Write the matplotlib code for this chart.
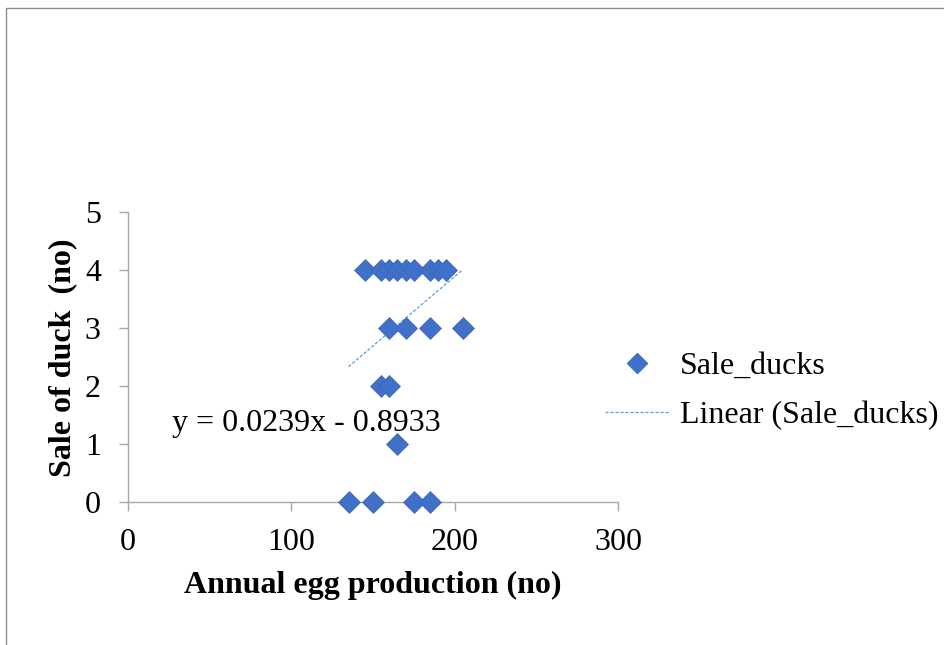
import numpy as np
import matplotlib.pyplot as plt
from matplotlib.lines import Line2D
from matplotlib.patches import Rectangle

# Data
egg_production = [145, 155, 160, 165, 170, 175, 185, 190, 195,
                  160, 170, 185, 205,
                  155, 160,
                  165,
                  135, 150, 175, 185]
sale_ducks = [4, 4, 4, 4, 4, 4, 4, 4, 4,
              3, 3, 3, 3,
              2, 2,
              1,
              0, 0, 0, 0]

# trendline coefficients as printed on the chart
slope = 0.0239
intercept = -0.8933

x_ticks = [0, 100, 200, 300]
y_ticks = [0, 1, 2, 3, 4, 5]

plt.rcParams['font.family'] = ['Liberation Serif', 'DejaVu Serif']
FS = 23

fig = plt.figure(figsize=(9.44, 6.45), dpi=100)
ax = fig.add_axes([128 / 944, 1 - 502 / 645, 490 / 944, 290 / 645])

marker_color = '#4070C8'
ax.plot(egg_production, sale_ducks, linestyle='none', marker='D', markersize=11,
        color=marker_color, markeredgecolor='#3A66B8', markeredgewidth=0.5,
        zorder=3, clip_on=False)

x_fit = np.array([min(egg_production), max(egg_production)])
ax.plot(x_fit, slope * x_fit + intercept, linestyle=(0, (2.5, 1.5)),
        color='#5B9BD5', linewidth=0.9, zorder=2)

ax.text(27, 1.36, f'y = {slope}x - {abs(intercept)}', fontsize=FS,
        ha='left', va='center')

ax.set_xlim(0, 300)
ax.set_ylim(0, 5)
ax.set_xticks(x_ticks)
ax.set_yticks(y_ticks)
for sp in ['top', 'right']:
    ax.spines[sp].set_visible(False)
for sp in ['left', 'bottom']:
    ax.spines[sp].set_color('#A6A6A6')
    ax.spines[sp].set_linewidth(1)
ax.tick_params(axis='both', colors='#A6A6A6', length=6.5, width=1, labelsize=FS,
               labelcolor='black')
ax.tick_params(axis='x', pad=12)
ax.tick_params(axis='y', pad=13)

fig.text(373 / 944, 1 - 585 / 645, 'Annual egg production (no)', fontsize=FS,
         fontweight='bold', ha='center', va='center')
fig.text(63 / 944, 1 - 358 / 645, 'Sale of duck  (no)', fontsize=FS,
         fontweight='bold', ha='center', va='center', rotation=90)

handles = [Line2D([], [], linestyle='none', marker='D', markersize=10,
                  color=marker_color),
           Line2D([], [], linestyle=(0, (2.5, 1.5)), color='#5B9BD5', linewidth=0.9)]
fig.legend(handles, ['Sale_ducks', 'Linear (Sale_ducks)'], loc='center left',
           bbox_to_anchor=(605 / 944, 1 - 391 / 645), frameon=False, fontsize=FS,
           borderaxespad=0, borderpad=0,
           handlelength=2.0, handletextpad=0.35, labelspacing=0.62)

# chart area border (cut off at right and bottom)
fig.patches.append(Rectangle((6 / 944, -0.1), 1.0, 1 - 8 / 645 + 0.1,
                             transform=fig.transFigure, fill=False,
                             edgecolor='#8C8C8C', linewidth=1))

fig.savefig('out.png', dpi=100)
